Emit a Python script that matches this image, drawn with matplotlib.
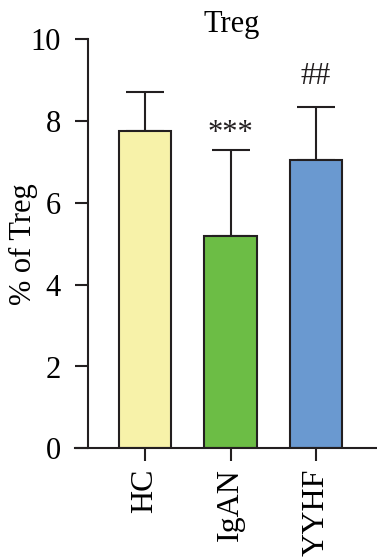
import numpy as np
import matplotlib
matplotlib.use('Agg')
import matplotlib.pyplot as plt

plt.rcParams['font.family'] = ['Liberation Serif', 'DejaVu Serif']

groups = ['HC', 'IgAN', 'YYHF']
means = [7.75, 5.19, 7.04]
sds = [0.96, 2.11, 1.30]
marks = ['', '***', '##']
mark_gap = [0, 0.05, 0.4]
colors = ['#F7F2A9', '#6CBD45', '#6A99D0']

fig = plt.figure(figsize=(3.77, 5.58), dpi=100)
ax = fig.add_axes([75/377, 1 - 448.3/558, 302/377, (448.3 - 39.3)/558])

x = np.arange(len(groups))
ax.bar(x, means, width=0.61, color=colors, edgecolor='#231F20', linewidth=1.5, zorder=2)
ax.errorbar(x, means, yerr=[np.zeros(len(sds)), sds], fmt='none', ecolor='#231F20',
            elinewidth=1.5, capsize=13.7, capthick=1.5, zorder=1)

for xi, m, s, t, g in zip(x, means, sds, marks, mark_gap):
    if t:
        ax.text(xi, m + s + g, t, ha='center', va='bottom', fontsize=22, color='#231F20')

ax.set_xlim(-0.819, 2.713)
ax.set_ylim(0, 10)
ax.set_yticks([0, 2, 4, 6, 8, 10])
ax.set_xticks(x)
ax.set_xticklabels(groups, rotation=90, fontsize=23)
ax.tick_params(axis='y', labelsize=22, length=9.4, width=1.5, pad=10, color='#231F20')
ax.tick_params(axis='x', length=9.4, width=1.5, pad=5, color='#231F20')

ax.spines['top'].set_visible(False)
ax.spines['right'].set_visible(False)
ax.spines['left'].set_position(('axes', 13/302))
for sp in ['left', 'bottom']:
    ax.spines[sp].set_linewidth(1.5)
    ax.spines[sp].set_color('#231F20')

ax.set_ylabel('% of Treg', fontsize=22, labelpad=-5)
ax.set_title('Treg', fontsize=22, pad=4, x=0.52)

fig.savefig('out.png', dpi=100)
